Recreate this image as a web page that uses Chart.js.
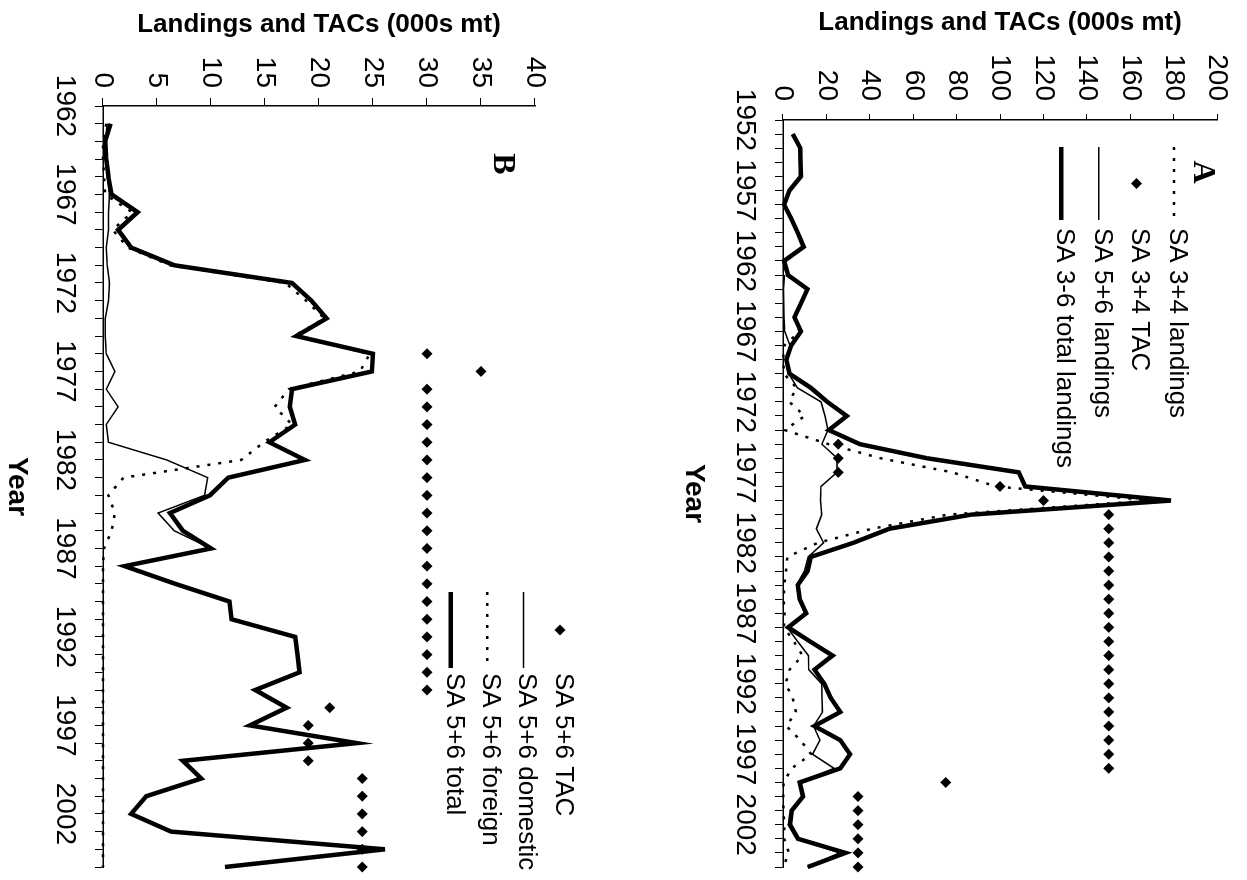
<!DOCTYPE html>
<html>
<head>
  <title>Landings and TACs</title>
  <script src="https://cdn.jsdelivr.net/npm/chart.js"></script>
  <style>
    body { margin: 0; background: #fff; overflow: hidden; }
    /* the figure is laid out upright, then turned a quarter turn clockwise */
    #page {
      position: absolute; left: 0; top: 0;
      width: 880px; height: 1247px;
      transform-origin: 0 0;
      transform: translate(1247px, 0) rotate(90deg);
      background: #fff;
    }
    canvas { display: block; }
  </style>
</head>
<body>
  <div id="page">
    <canvas id="chartA" width="880" height="597"></canvas>
    <canvas id="chartB" width="880" height="650"></canvas>
  </div>

  <script>
    // ====================
    // Panel A: SA 3-6 (000s mt), 1952-2005
    // ====================
    const yearsA = [
      1952, 1953, 1954, 1955, 1956, 1957, 1958, 1959, 1960, 1961,
      1962, 1963, 1964, 1965, 1966, 1967, 1968, 1969, 1970, 1971,
      1972, 1973, 1974, 1975, 1976, 1977, 1978, 1979, 1980, 1981,
      1982, 1983, 1984, 1985, 1986, 1987, 1988, 1989, 1990, 1991,
      1992, 1993, 1994, 1995, 1996, 1997, 1998, 1999, 2000, 2001,
      2002, 2003, 2004, 2005
    ];
    const sa34Landings = [
      null, 4.5, 8, 8.1, 8.3, 3, 0.5, 3.8, 6.8, 9.5,
      0.5, 1.6, 11.1, 8, 4.9, 7.7, 0.6, 0.1, 0.4, 6.2,
      2.9, 10, 0.8, 21, 45, 78, 98, 170, 76, 41,
      16, 2, 1.4, 0.6, 0.3, 0.7, 0.4, 5, 9, 3,
      1.2, 4.4, 6, 1.5, 8, 13, 4, 0.3, 0.1, 0.2,
      0.6, 0.6, 2.7, 0.1
    ];
    const sa34Tac = [
      null, null, null, null, null, null, null, null, null, null,
      null, null, null, null, null, null, null, null, null, null,
      null, null, null, 25.5, 25.5, 25.5, 100, 120, 150, 150,
      150, 150, 150, 150, 150, 150, 150, 150, 150, 150,
      150, 150, 150, 150, 150, 150, 150, 75, 34.5, 34.5,
      34.5, 34.5, 34.5, 34.5
    ];
    const sa56LandingsA = [
      null, null, null, null, null, null, null, null, null, null,
      null, 0.7, 0.2, 0.3, 0.5, 0.8, 3.2, 1.4, 2.6, 6.6,
      17.5, 19.3, 20.7, 17.9, 25, 24.9, 17.5, 17.3, 17.8, 15.4,
      18.7, 11.6, 9.9, 6.2, 7.4, 10, 2, 6.7, 11.7, 11.9,
      17.8, 18, 18.2, 14.1, 17, 13.6, 23.5, 7.4, 9.1, 4,
      2.6, 6.3, 26.1, 11.3
    ];
    const sa36Total = [
      null, 4.5, 8, 8.1, 8.3, 3, 0.5, 3.8, 6.8, 9.5,
      0.5, 2.3, 11.3, 8.3, 5.3, 8.3, 3.8, 1.5, 3, 12.8,
      20.4, 29.4, 21.1, 35.4, 66.4, 108.6, 111.6, 178.7, 86.7, 49,
      32.4, 12.8, 11.3, 6.8, 7.7, 10.7, 2.4, 12.5, 22.8, 14.5,
      19, 22, 26.4, 14.5, 26.4, 30.9, 26.4, 7.7, 9.2, 4,
      3.2, 6.9, 28.8, 11.4
    ];

    // ====================
    // Panel B: SA 5+6 (000s mt), 1962-2005
    // ====================
    const yearsB = [
      1962, 1963, 1964, 1965, 1966, 1967, 1968, 1969, 1970, 1971,
      1972, 1973, 1974, 1975, 1976, 1977, 1978, 1979, 1980, 1981,
      1982, 1983, 1984, 1985, 1986, 1987, 1988, 1989, 1990, 1991,
      1992, 1993, 1994, 1995, 1996, 1997, 1998, 1999, 2000, 2001,
      2002, 2003, 2004, 2005
    ];
    const sa56Tac = [
      null, null, null, null, null, null, null, null, null, null,
      null, null, null, null, 30, 35, 30, 30, 30, 30,
      30, 30, 30, 30, 30, 30, 30, 30, 30, 30,
      30, 30, 30, 30, 21, 19, 19, 19, 24, 24,
      24, 24, 24, 24
    ];
    const sa56Domestic = [
      null, 0.4, 0.2, 0.3, 0.4, 0.6, 0.5, 0.5, 0.3, 0.4,
      0.6, 0.5, 0.2, 0.2, 0.3, 1.1, 0.3, 1.4, 0.3, 0.5,
      5.9, 9.7, 9.4, 5.1, 6.6, 10, 2, 6.7, 11.7, 11.9,
      17.8, 18, 18.2, 14.1, 17, 13.6, 23.5, 7.4, 9.1, 4,
      2.6, 6.3, 26.1, 11.3
    ];
    const sa56Foreign = [
      null, 0.3, 0, 0, 0.1, 0.2, 2.7, 0.9, 2.3, 6.2,
      16.9, 18.8, 20.5, 17.7, 24.7, 23.8, 17.2, 15.9, 17.5, 14.9,
      12.8, 1.9, 0.5, 1.1, 0.8, 0.1, 0, 0, 0, 0,
      0, 0, 0, 0, 0, 0, 0, 0, 0, 0,
      0, 0, 0, 0
    ];
    const sa56Total = [
      null, 0.7, 0.2, 0.3, 0.5, 0.8, 3.2, 1.4, 2.6, 6.6,
      17.5, 19.3, 20.7, 17.9, 25, 24.9, 17.5, 17.3, 17.8, 15.4,
      18.7, 11.6, 9.9, 6.2, 7.4, 10, 2, 6.7, 11.7, 11.9,
      17.8, 18, 18.2, 14.1, 17, 13.6, 23.5, 7.4, 9.1, 4,
      2.6, 6.3, 26.1, 11.3
    ];

    Chart.defaults.font.family = "'Liberation Sans', Arial, sans-serif";
    Chart.defaults.color = '#000';

    // dataset styles
    const THICK = 4.5, THIN = 1.5, DOT = 2.5, DOT_DASH = [3, 8];

    function lineSet(label, data, width, dash) {
      return {
        label: label, data: data,
        borderColor: '#000', borderWidth: width, borderDash: dash || [],
        pointRadius: 0, tension: 0, fill: false, clip: false
      };
    }
    function tacSet(label, data) {
      return {
        label: label, data: data, showLine: false,
        pointStyle: 'rectRot', pointRadius: 5.5, pointBorderWidth: 0,
        pointBackgroundColor: '#000', borderColor: '#000', clip: false
      };
    }

    // panel letter + legend drawn inside the plot, keys taken from the datasets
    const panelDecor = {
      id: 'panelDecor',
      afterDraw(chart, args, opts) {
        const ctx = chart.ctx;
        ctx.save();
        ctx.fillStyle = '#000';
        ctx.font = "bold 32px 'Liberation Serif', 'Times New Roman', serif";
        ctx.textAlign = 'center';
        ctx.textBaseline = 'middle';
        ctx.fillText(opts.letter, opts.letterX, opts.letterY);

        ctx.font = "26px 'Liberation Sans', Arial, sans-serif";
        ctx.textAlign = 'left';
        chart.data.datasets.forEach((ds, i) => {
          const y = opts.top + i * opts.gap;
          const x0 = opts.left, x1 = opts.left + opts.lineLength;
          if (ds.showLine === false) {
            const cx = (x0 + x1) / 2, r = ds.pointRadius;
            ctx.beginPath();
            ctx.moveTo(cx, y - r);
            ctx.lineTo(cx + r, y);
            ctx.lineTo(cx, y + r);
            ctx.lineTo(cx - r, y);
            ctx.closePath();
            ctx.fill();
          } else {
            ctx.beginPath();
            ctx.setLineDash(ds.borderDash);
            ctx.lineWidth = ds.borderWidth;
            ctx.strokeStyle = ds.borderColor;
            ctx.moveTo(x0, y);
            ctx.lineTo(x1, y);
            ctx.stroke();
            ctx.setLineDash([]);
          }
          ctx.fillText(ds.label, x1 + opts.textGap, y - 3);
        });
        ctx.restore();
      }
    };

    function buildChart(id, o) {
      return new Chart(document.getElementById(id), {
        type: 'line',
        data: { labels: o.years, datasets: o.datasets },
        options: {
          responsive: false,
          animation: false,
          events: [],
          layout: { padding: o.padding },
          plugins: {
            legend: { display: false },
            tooltip: { enabled: false },
            panelDecor: o.decor
          },
          scales: {
            x: {
              type: 'category',
              offset: false,
              afterFit: s => { s.height = o.xHeight; },
              border: { color: '#000', width: 1.5 },
              grid: { drawOnChartArea: false, tickLength: 8, color: '#000', lineWidth: 1 },
              ticks: {
                autoSkip: false, maxRotation: 0, minRotation: 0,
                padding: o.xPad, font: { size: 28 }, color: '#000',
                callback: (v, i) => (o.years[i] - o.years[0]) % 5 === 0 ? String(o.years[i]) : ''
              },
              title: {
                display: true, text: 'Year', color: '#000',
                font: { size: 28, weight: 'bold' },
                padding: { top: 0, bottom: o.xTitlePad }
              }
            },
            y: {
              min: 0, max: o.yMax,
              afterFit: s => { s.width = o.yWidth; },
              border: { color: '#000', width: 1.5 },
              grid: { drawOnChartArea: false, tickLength: o.yTick, color: '#000', lineWidth: 1 },
              ticks: {
                stepSize: o.yStep, padding: o.yPad, font: { size: 28 }, color: '#000',
                callback: v => v % o.yLabelStep === 0 ? v : ''
              },
              title: {
                display: true, text: 'Landings and TACs (000s mt)', color: '#000',
                font: { size: 26, weight: 'bold' },
                padding: { top: o.yTitlePad, bottom: 0 }
              }
            }
          }
        },
        plugins: [panelDecor]
      });
    }

    buildChart('chartA', {
      years: yearsA,
      datasets: [
        lineSet('SA 3+4 landings', sa34Landings, DOT, DOT_DASH),
        tacSet('SA 3+4 TAC', sa34Tac),
        lineSet('SA 5+6 landings', sa56LandingsA, THIN),
        lineSet('SA 3-6 total landings', sa36Total, THICK)
      ],
      padding: { top: 22, right: 2, left: 0, bottom: 0 },
      xHeight: 133, xPad: 13, xTitlePad: 27,
      yWidth: 120, yMax: 200, yStep: 10, yLabelStep: 20, yTick: 6, yPad: 13, yTitlePad: 7,
      decor: { letter: 'A', letterX: 172, letterY: 45, left: 147, top: 73, gap: 37.6, lineLength: 73, textGap: 8 }
    });

    buildChart('chartB', {
      years: yearsB,
      datasets: [
        tacSet('SA 5+6 TAC', sa56Tac),
        lineSet('SA 5+6 domestic', sa56Domestic, THIN),
        lineSet('SA 5+6 foreign', sa56Foreign, DOT, DOT_DASH),
        lineSet('SA 5+6 total', sa56Total, THICK)
      ],
      padding: { top: 115, right: 4, left: 0, bottom: 0 },
      xHeight: 103, xPad: 13, xTitlePad: 0,
      yWidth: 106, yMax: 40, yStep: 5, yLabelStep: 5, yTick: 8, yPad: 10, yTitlePad: 9,
      decor: { letter: 'B', letterX: 164, letterY: 148, left: 592, top: 90, gap: 36.4, lineLength: 76, textGap: 5 }
    });
  </script>
</body>
</html>
